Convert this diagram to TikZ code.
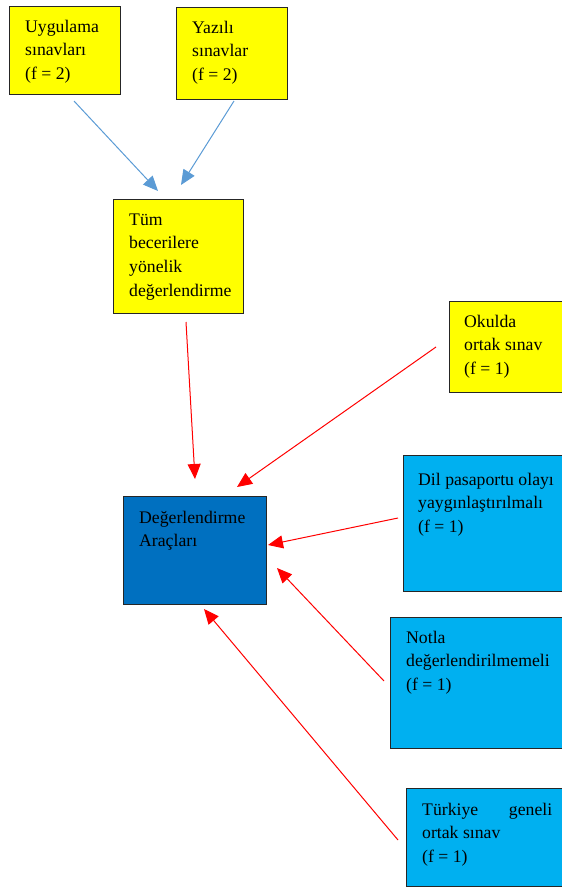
\documentclass[tikz,border=0pt]{standalone}
\usepackage{fontspec}
\setmainfont{Liberation Serif}
\usetikzlibrary{arrows.meta}
\definecolor{boxyellow}{HTML}{FFFF00}
\definecolor{boxdark}{HTML}{0070C0}
\definecolor{boxlight}{HTML}{00B0F0}
\definecolor{linkblue}{HTML}{5B9BD5}
\definecolor{linkred}{HTML}{FF0000}
\definecolor{edge}{HTML}{262626}
\begin{document}
\begin{tikzpicture}[x=1pt,y=-1pt,
  box/.style={draw=edge, line width=0.9pt, inner sep=0pt, outer sep=0pt, anchor=north west},
  lbl/.style={anchor=base west, inner sep=0pt, font=\fontsize{17.7}{23.7}\selectfont},
  bluelink/.style={draw=linkblue, line width=1pt, -{Triangle[length=15pt,width=13pt]}},
  redlink/.style={draw=linkred, line width=1pt, -{Triangle[length=15pt,width=13pt]}}]
\useasboundingbox (0,0) rectangle (562,889);

% boxes
\node[box, fill=boxyellow, minimum width=111pt, minimum height=88pt] (uyg) at (9,6) {};
\node[box, fill=boxyellow, minimum width=111pt, minimum height=92pt] (yaz) at (176,7) {};
\node[box, fill=boxyellow, minimum width=130pt, minimum height=114pt] (tum) at (113,199) {};
\node[box, fill=boxdark, minimum width=143pt, minimum height=108pt] (deg) at (123,496) {};
\node[box, fill=boxyellow, minimum width=113pt, minimum height=91pt] (oku) at (449,301) {};
\node[box, fill=boxlight, minimum width=159pt, minimum height=136pt] (dil) at (403,455) {};
\node[box, fill=boxlight, minimum width=172pt, minimum height=131pt] (not) at (390,617) {};
\node[box, fill=boxlight, minimum width=156pt, minimum height=98pt] (tur) at (406,788) {};

% texts
\node[lbl] (uygT) at (25,32) {\parbox[t]{95pt}{\raggedright Uygulama\\sınavları\\(f = 2)}};
\node[lbl] (yazT) at (192,33) {\parbox[t]{90pt}{\raggedright Yazılı\\sınavlar\\(f = 2)}};
\node[lbl] (tumT) at (129,225) {\parbox[t]{112pt}{\raggedright Tüm\\becerilere\\yönelik\\değerlendirme}};
\node[lbl] (degT) at (139,523) {\parbox[t]{125pt}{\raggedright Değerlendirme\\Araçları}};
\node[lbl] (okuT) at (464,327) {\parbox[t]{95pt}{\raggedright Okulda\\ortak sınav\\(f = 1)}};
\node[lbl] (dilT) at (418,485) {\parbox[t]{142pt}{\raggedright Dil pasaportu olayı\\yaygınlaştırılmalı\\(f = 1)}};
\node[lbl] (notT) at (406,643) {\parbox[t]{155pt}{\raggedright Notla\\değerlendirilmemeli\\(f = 1)}};
\node[lbl] (turT) at (422,815) {\parbox[t]{130pt}{\raggedright\makebox[130pt][s]{Türkiye\hfill geneli}\\ortak sınav\\(f = 1)}};

% connector end points
\coordinate (uygS) at (74,101);
\coordinate (yazS) at (234,101);
\coordinate (tumIn1) at (158,191);
\coordinate (tumIn2) at (181,185);
\coordinate (tumS) at (186,322);
\coordinate (okuS) at (436,347);
\coordinate (dilS) at (398,518);
\coordinate (notS) at (384,681);
\coordinate (turS) at (398,840);
\coordinate (degIn1) at (195,479);
\coordinate (degIn2) at (237,487);
\coordinate (degIn3) at (268,545);
\coordinate (degIn4) at (277,568);
\coordinate (degIn5) at (204,609);

% connectors
\draw[bluelink] (uygS) -- (tumIn1);
\draw[bluelink] (yazS) -- (tumIn2);
\draw[redlink] (tumS) -- (degIn1);
\draw[redlink] (okuS) -- (degIn2);
\draw[redlink] (dilS) -- (degIn3);
\draw[redlink] (notS) -- (degIn4);
\draw[redlink] (turS) -- (degIn5);
\end{tikzpicture}
\end{document}
